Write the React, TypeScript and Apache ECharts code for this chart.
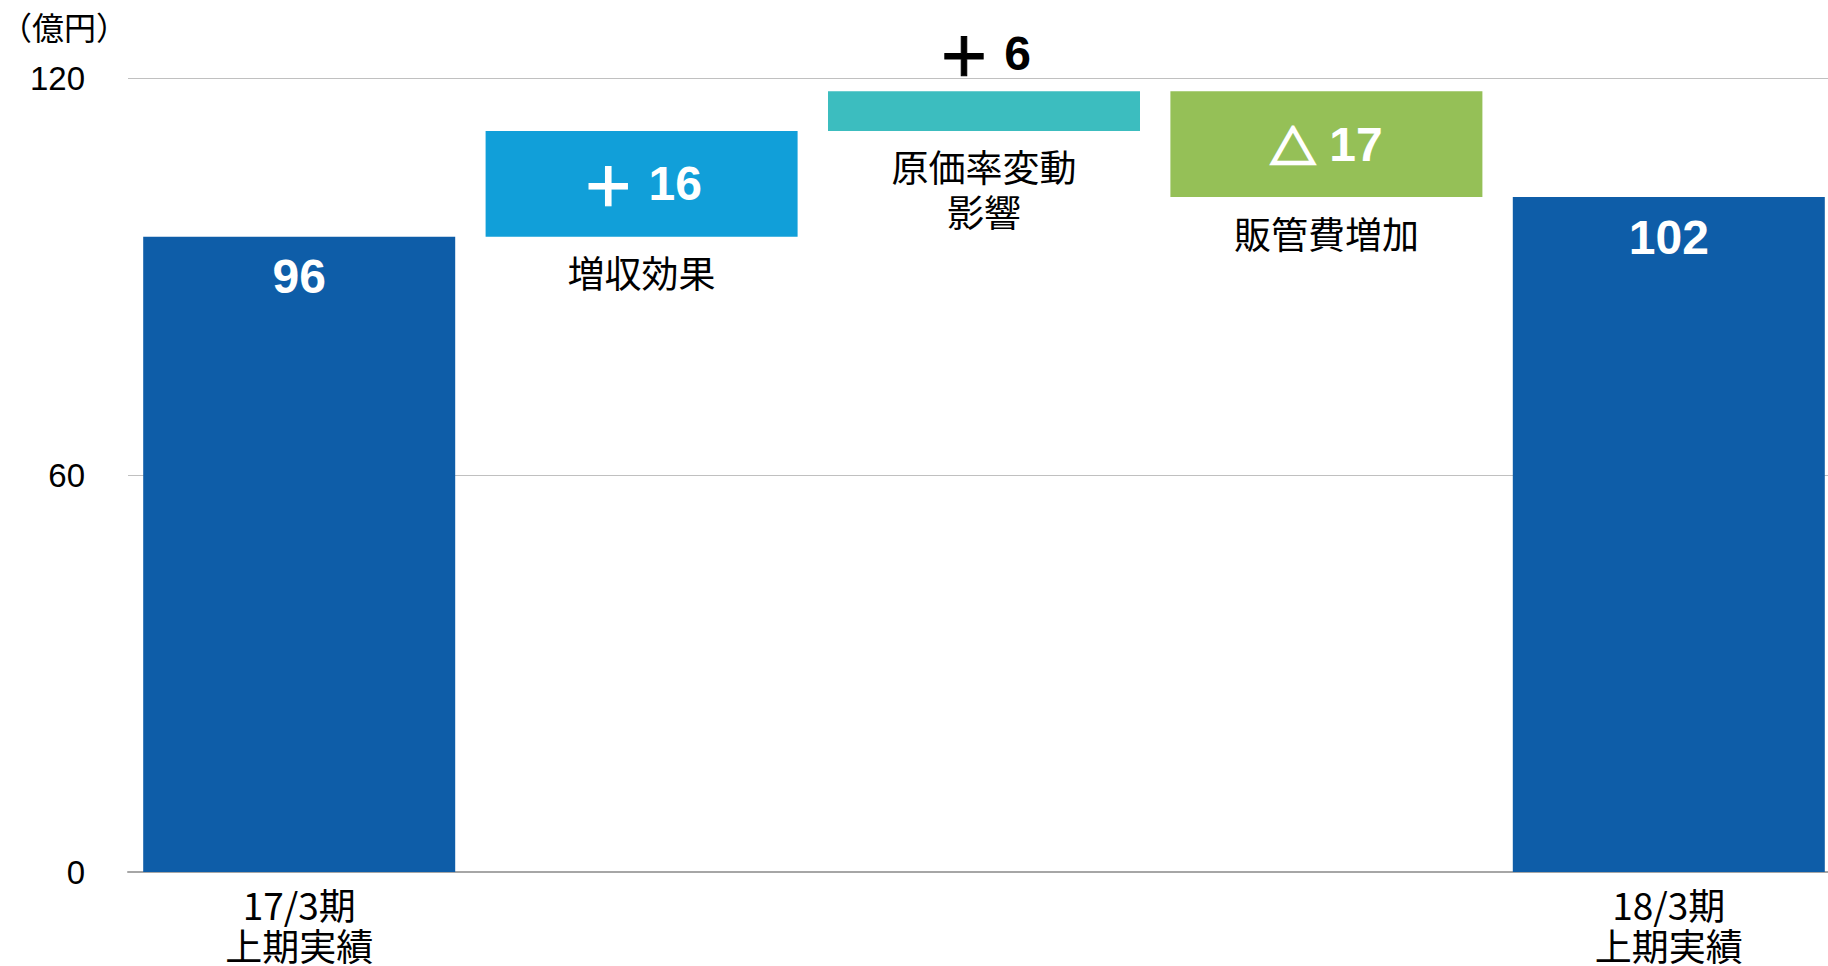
import React, { useEffect, useRef } from "react";
import * as echarts from "echarts";

const categories = ["17/3期\n上期実績", "", "", "", "18/3期\n上期実績"];
const stepNames = ["", "増収効果", "原価率変動\n影響", "販管費増加", ""];
const baseValues = [0, 96, 112, 102, 0];
const barValues = [96, 16, 6, 16, 102];
const labelSigns = ["", "＋", "＋", "△", ""];
const labelNumbers = ["96", "16", "6", "17", "102"];
const barColors = ["#0E5DA8", "#119FD9", "#3CBDBF", "#95C057", "#0E5DA8"];
const yMin = 0;
const yMax = 120;
const yInterval = 60;
const unitLabel = "（億円）";

const LATIN = "'Liberation Sans', Arial, 'Noto Sans CJK JP', sans-serif";
const CJK = "'Noto Sans CJK JP', 'Noto Sans CJK SC', sans-serif";

export default function App() {
  const ref = useRef<HTMLDivElement>(null);

  useEffect(() => {
    if (!ref.current) return;
    const chart = echarts.init(ref.current, undefined, { renderer: "svg" });

    const labelStyles = [
      { position: "insideTop", distance: 16, color: "#ffffff" },
      { position: "inside", distance: 0, color: "#ffffff" },
      { position: "top", distance: 14, color: "#000000" },
      { position: "inside", distance: 0, color: "#ffffff" },
      { position: "insideTop", distance: 16, color: "#ffffff" },
    ];

    chart.setOption({
      animation: false,
      backgroundColor: "#ffffff",
      grid: { left: 128, right: 0, top: 78, bottom: 94, containLabel: false },
      graphic: [
        {
          type: "text",
          left: 0,
          top: 10,
          style: { text: unitLabel, font: `32px ${CJK}`, fill: "#000" },
        },
      ],
      xAxis: {
        type: "category",
        data: categories,
        axisLine: { show: true, lineStyle: { color: "#a6a6a6", width: 2 } },
        axisTick: { show: false },
        axisLabel: {
          color: "#000",
          fontFamily: CJK,
          fontSize: 37,
          lineHeight: 41,
          margin: 11,
          interval: 0,
        },
      },
      yAxis: {
        type: "value",
        min: yMin,
        max: yMax,
        interval: yInterval,
        axisLine: { show: false },
        axisTick: { show: false },
        splitLine: { lineStyle: { color: "#c0c0c0", width: 1 } },
        axisLabel: {
          color: "#000",
          fontFamily: LATIN,
          fontSize: 33,
          margin: 43,
        },
      },
      series: [
        {
          type: "bar",
          stack: "w",
          barWidth: 312,
          silent: true,
          itemStyle: { color: "transparent" },
          data: baseValues.map((v, i) => ({
            value: v,
            label: {
              show: stepNames[i] !== "",
              position: "insideTop",
              distance: 13,
              formatter: stepNames[i],
              color: "#000",
              fontFamily: CJK,
              fontSize: 37,
              lineHeight: 45,
            },
          })),
        },
        {
          type: "bar",
          stack: "w",
          barWidth: 312,
          data: barValues.map((v, i) => {
            const c = labelStyles[i].color;
            const sign = labelSigns[i];
            const signKey = sign === "△" ? "t" : "p";
            const text = sign
              ? `{${signKey}|${sign}} {n|${labelNumbers[i]}}`
              : `{n|${labelNumbers[i]}}`;
            return {
              value: v,
              itemStyle: { color: barColors[i] },
              label: {
                show: true,
                position: labelStyles[i].position,
                distance: labelStyles[i].distance,
                formatter: text,
                color: c,
                fontFamily: LATIN,
                fontWeight: "bold",
                fontSize: 48,
                lineHeight: 48,
                rich: {
                  n: {
                    color: c,
                    fontFamily: LATIN,
                    fontWeight: "bold",
                    fontSize: 48,
                    lineHeight: 48,
                  },
                  p: {
                    color: c,
                    fontFamily: CJK,
                    fontWeight: "bold",
                    fontSize: 54,
                    lineHeight: 48,
                    textBorderColor: c,
                    textBorderWidth: 1,
                  },
                  t: {
                    color: c,
                    fontFamily: CJK,
                    fontWeight: "bold",
                    fontSize: 46,
                    lineHeight: 48,
                    textBorderColor: c,
                    textBorderWidth: 2.5,
                  },
                },
              },
            };
          }),
        },
      ],
    });

    return () => chart.dispose();
  }, []);

  return (
    <div
      style={{
        position: "absolute",
        left: 0,
        top: 0,
        width: 1828,
        height: 966,
        overflow: "hidden",
      }}
    >
      <div ref={ref} style={{ width: 1840, height: 966 }} />
    </div>
  );
}
